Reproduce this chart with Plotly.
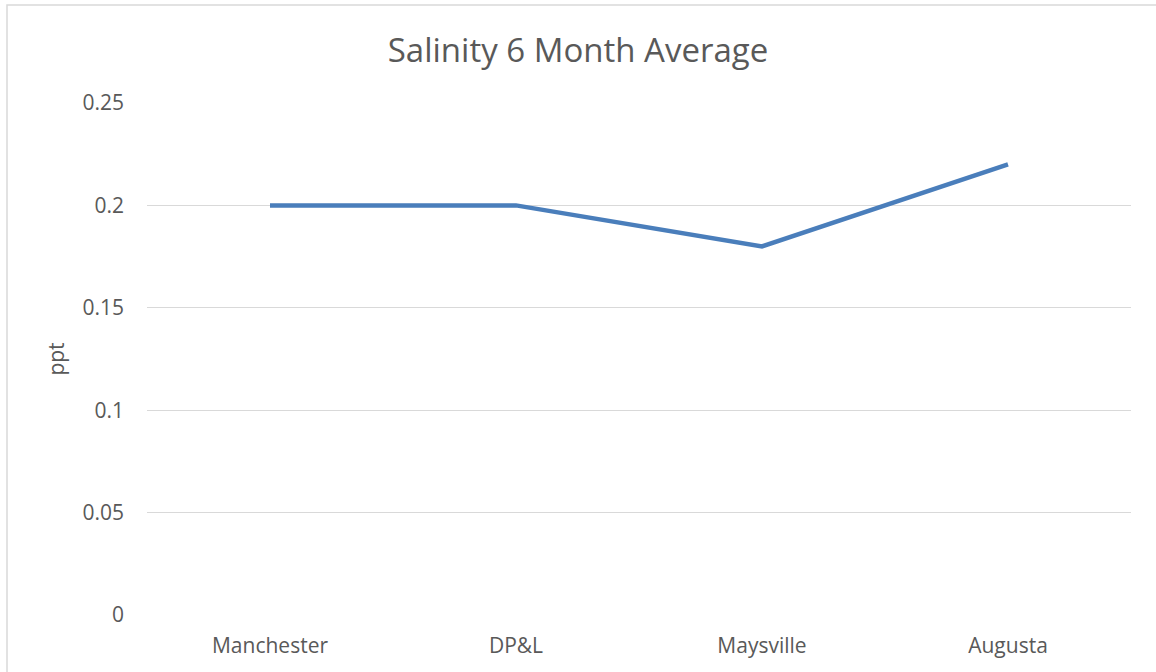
import plotly.graph_objects as go

categories = ["Manchester", "DP&L", "Maysville", "Augusta"]
salinity = [0.2, 0.2, 0.18, 0.22]
y_ticks = [0, 0.05, 0.1, 0.15, 0.2, 0.25]
y_tick_labels = ["0", "0.05", "0.1", "0.15", "0.2", "0.25"]

fig = go.Figure()
fig.add_trace(go.Scatter(
    x=categories, y=salinity, mode="lines",
    line=dict(color="#4a7ebb", width=4.5),
    hoverinfo="x+y",
))

W, H = 1156, 672
l, r, t, b = 147, 25, 103, 57
pw, ph = W - l - r, H - t - b
txt = "#595959"

fig.update_layout(
    width=W, height=H,
    margin=dict(l=l, r=r, t=t, b=b),
    paper_bgcolor="white", plot_bgcolor="white",
    font=dict(family="Open Sans, Noto Sans, sans-serif", color=txt, size=21),
    title=dict(text="Salinity 6 Month Average", x=0.5, xanchor="center",
               y=1 - 50 / H, yanchor="middle",
               font=dict(size=33, color=txt)),
    showlegend=False,
    xaxis=dict(
        type="category", range=[-0.5, 3.5], showgrid=False, zeroline=False,
        showline=False, ticks="", ticklabelstandoff=16,
        tickfont=dict(size=21, color=txt),
    ),
    yaxis=dict(
        range=[0, 0.25], tickvals=y_ticks, ticktext=y_tick_labels,
        showgrid=True, gridcolor="#d9d9d9", gridwidth=1.3,
        zeroline=False, showline=False, ticks="", ticklabelstandoff=22,
        tickfont=dict(size=21, color=txt),
        title=dict(text="ppt", font=dict(size=21, color=txt), standoff=12),
    ),
)

# outer chart border
fig.add_shape(type="rect", xref="paper", yref="paper",
              x0=(7 - l) / pw, x1=(W + 20 - l) / pw,
              y0=-(b + 20) / ph, y1=1 + (t - 5) / ph,
              line=dict(color="#d9d9d9", width=1.5), fillcolor="rgba(0,0,0,0)",
              layer="below")

fig.write_html("out.html", config={"displayModeBar": False},
               post_script="document.body.style.margin='0';document.body.style.overflow='hidden';")
